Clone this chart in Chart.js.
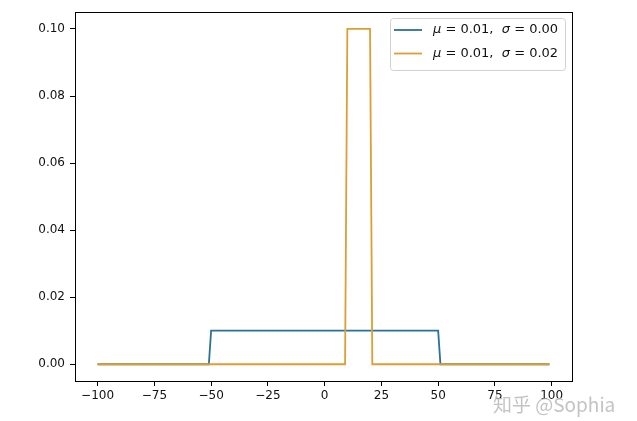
<!DOCTYPE html>
<html>
<head>
<meta charset="utf-8">
<script src="https://cdn.jsdelivr.net/npm/chart.js@4.4.1/dist/chart.umd.min.js"></script>
<style>
  html, body { margin: 0; padding: 0; background: #fff; }
  canvas { display: block; }
</style>
</head>
<body>
<canvas id="chart" width="637" height="421"></canvas>
<script>
    // Series (corner points of each step line)
    const blueX = [-100, -51, -50, 50, 51, 99];
    const blueY = [0, 0, 0.01, 0.01, 0, 0];
    const orangeX = [-100, 9, 10, 20, 21, 99];
    const orangeY = [0, 0, 0.1, 0.1, 0, 0];

    const seriesLabels = ['μ = 0.01,  σ = 0.00', 'μ = 0.01,  σ = 0.02'];
    const seriesColors = ['#2b7196', '#dc9e35'];

    // Tick labels
    const xTicks = [-100, -75, -50, -25, 0, 25, 50, 75, 100];
    const yTicks = [0, 0.02, 0.04, 0.06, 0.08, 0.10];

    const toPoints = (xs, ys) => xs.map((x, i) => ({ x: x, y: ys[i] }));
    const tickFont = { family: 'DejaVu Sans', size: 12 };

    // Full box around the axes + matplotlib style legend + watermark
    const framePlugin = {
        id: 'frame',
        afterDraw(chart) {
            const ctx = chart.ctx;
            const a = chart.chartArea;
            ctx.save();
            ctx.strokeStyle = '#000';
            ctx.lineWidth = 1;
            ctx.strokeRect(Math.round(a.left) + 0.5, Math.round(a.top) + 0.5,
                Math.round(a.right - a.left), Math.round(a.bottom - a.top));

            // legend box
            const bx = 390, by = 18, bw = 175, bh = 52;
            ctx.fillStyle = 'rgba(255,255,255,0.85)';
            ctx.strokeStyle = '#d0d0d0';
            ctx.beginPath();
            ctx.roundRect(bx + 0.5, by + 0.5, bw, bh, 3);
            ctx.fill();
            ctx.stroke();

            chart.data.datasets.forEach((ds, i) => {
                const y = by + 12 + i * 23.5;
                ctx.strokeStyle = ds.borderColor;
                ctx.lineWidth = 1.8;
                ctx.beginPath();
                ctx.moveTo(bx + 4, y);
                ctx.lineTo(bx + 32, y);
                ctx.stroke();

                // greek letters in italic, the rest upright
                let tx = bx + 43;
                ctx.fillStyle = '#111';
                ctx.textBaseline = 'middle';
                for (const ch of ds.label) {
                    const greek = ch === 'μ' || ch === 'σ';
                    ctx.font = (greek ? 'italic ' : '') + '13px "DejaVu Sans"';
                    ctx.fillText(ch, tx, y);
                    tx += ctx.measureText(ch).width;
                }
            });

            // watermark
            ctx.font = '19px "Noto Sans CJK SC"';
            ctx.textBaseline = 'middle';
            ctx.fillStyle = 'rgba(185,185,185,0.85)';
            ctx.fillText('知乎 @Sophia', 493, 405);
            ctx.restore();
        }
    };

    new Chart(document.getElementById('chart'), {
        type: 'line',
        data: {
            datasets: [
                {
                    label: seriesLabels[0],
                    data: toPoints(blueX, blueY),
                    borderColor: seriesColors[0],
                    borderWidth: 1.8,
                    pointRadius: 0,
                    tension: 0,
                    order: 1
                },
                {
                    label: seriesLabels[1],
                    data: toPoints(orangeX, orangeY),
                    borderColor: seriesColors[1],
                    borderWidth: 1.8,
                    pointRadius: 0,
                    tension: 0,
                    order: 0
                }
            ]
        },
        options: {
            responsive: false,
            animation: false,
            layout: { padding: { left: 0, right: 65, top: 11, bottom: 0 } },
            plugins: {
                legend: { display: false },
                tooltip: { enabled: false }
            },
            scales: {
                x: {
                    type: 'linear',
                    min: -109.95,
                    max: 108.95,
                    afterBuildTicks: scale => { scale.ticks = xTicks.map(v => ({ value: v })); },
                    afterFit: scale => { scale.height = 40; },
                    ticks: {
                        color: '#111',
                        font: tickFont,
                        padding: 3,
                        maxRotation: 0,
                        autoSkip: false,
                        callback: v => String(v).replace('-', '\u2212')
                    },
                    grid: { drawOnChartArea: false, drawTicks: true, tickLength: 5, color: '#000' },
                    border: { display: true, color: '#000' }
                },
                y: {
                    type: 'linear',
                    min: -0.005,
                    max: 0.105,
                    afterBuildTicks: scale => { scale.ticks = yTicks.map(v => ({ value: v })); },
                    afterFit: scale => { scale.width = 75; },
                    ticks: {
                        color: '#111',
                        font: tickFont,
                        padding: 5,
                        autoSkip: false,
                        callback: v => v.toFixed(2)
                    },
                    grid: { drawOnChartArea: false, drawTicks: true, tickLength: 5, color: '#000' },
                    border: { display: true, color: '#000' }
                }
            }
        },
        plugins: [framePlugin]
    });
</script>
</body>
</html>
